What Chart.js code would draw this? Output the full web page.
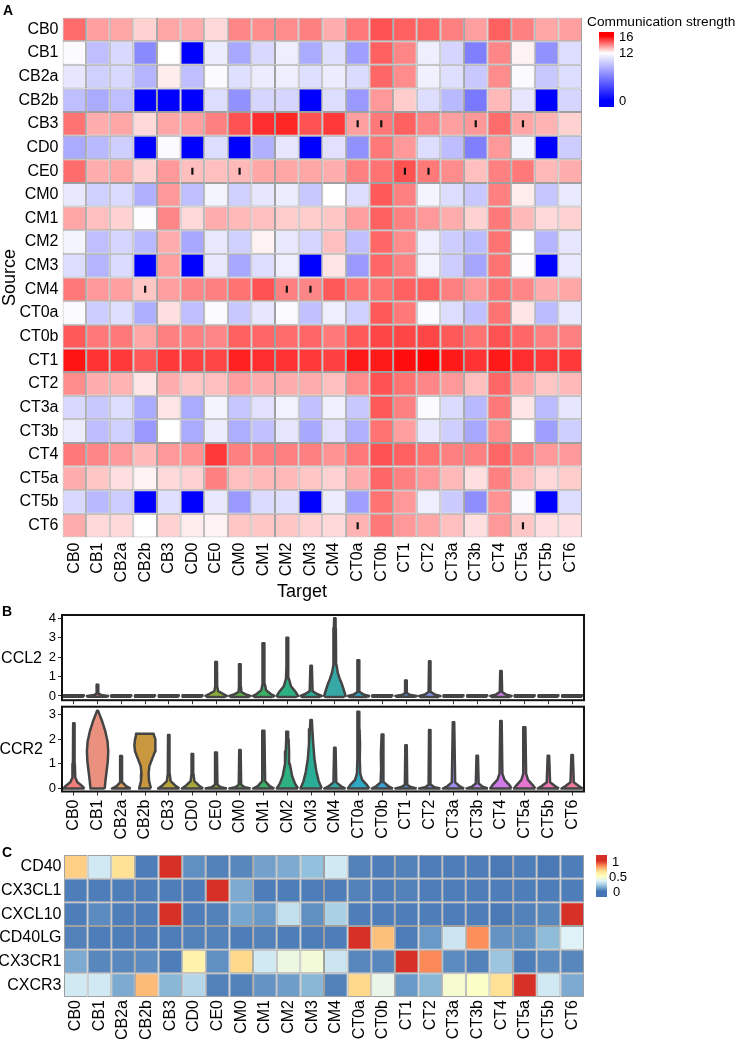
<!DOCTYPE html>
<html>
<head>
<meta charset="utf-8">
<script src="https://cdn.jsdelivr.net/npm/chart.js@4.4.1/dist/chart.umd.min.js"></script>
<style>
  body { margin: 0; background: #fff; width: 736px; height: 1039px; position: relative; overflow: hidden;
         font-family: "Liberation Sans", Arial, sans-serif; color: #000; }
  canvas { position: absolute; left: 0; }
  .lbl { position: absolute; white-space: nowrap; line-height: 1; }
  .panel { font-weight: bold; font-size: 14px; }
  .bar { position: absolute; }
</style>
</head>
<body>
<canvas id="heat-a" width="736" height="610" style="top:0px"></canvas>
<canvas id="vln-ccl2" width="736" height="110" style="top:600px"></canvas>
<canvas id="vln-ccr2" width="736" height="145" style="top:695px"></canvas>
<canvas id="heat-c" width="736" height="199" style="top:840px"></canvas>

<div class="lbl panel" style="left:3px;top:3px">A</div>
<div class="lbl panel" style="left:2px;top:604px">B</div>
<div class="lbl panel" style="left:2px;top:845px">C</div>

<div class="lbl" style="left:302px;top:591px;font-size:18px;transform:translate(-50%,-50%)">Target</div>

<div class="lbl" style="left:587px;top:15px;font-size:13.7px">Communication strength</div>
<div class="bar" style="left:599px;top:32px;width:15px;height:75px;background:linear-gradient(to bottom,#ff0000 0%,#ff0000 5%,#ffffff 28%,#0000ff 91%,#0000ff 100%)"></div>
<div class="lbl" style="left:619px;top:29.5px;font-size:13px">16</div>
<div class="lbl" style="left:619px;top:46px;font-size:13px">12</div>
<div class="lbl" style="left:619px;top:93.5px;font-size:13px">0</div>

<div class="lbl" style="right:694px;top:658px;font-size:16px;transform:translateY(-50%)">CCL2</div>
<div class="lbl" style="right:693px;top:749px;font-size:16px;transform:translateY(-50%)">CCR2</div>

<div class="bar" style="left:596px;top:855px;width:11px;height:42px;background:linear-gradient(to bottom,#D73027 0%,#D73027 14%,#FC8D59 26%,#FEE090 38%,#FFFFBF 50%,#E0F3F8 62%,#91BFDB 74%,#4575B4 86%,#4575B4 100%)"></div>
<div class="lbl" style="left:612px;top:854.5px;font-size:13px">1</div>
<div class="lbl" style="left:609px;top:869.5px;font-size:13px">0.5</div>
<div class="lbl" style="left:613px;top:884.5px;font-size:13px">0</div>

<script>
// ============================================
// Data
// ============================================

// Cell groups (used as source rows, target columns and violin groups)
const cellGroups = ['CB0', 'CB1', 'CB2a', 'CB2b', 'CB3', 'CD0', 'CE0', 'CM0', 'CM1', 'CM2', 'CM3',
    'CM4', 'CT0a', 'CT0b', 'CT1', 'CT2', 'CT3a', 'CT3b', 'CT4', 'CT5a', 'CT5b', 'CT6'];

// Panel A: communication strength, one row per source, columns in cellGroups order
const commStrength = [
    /* CB0  */ [14.3, 13.5, 13.4, 12.7, 13.4, 13.3, 12.6, 13.9, 13.8, 13.8, 14.0, 13.3, 14.1, 14.7, 14.5, 14.4, 14.0, 13.5, 14.5, 14.0, 13.4, 13.5],
    /* CB1  */ [11.8, 9.0, 10.2, 6.5, 12.0, 0, 11.1, 7.9, 10.2, 11.2, 8.0, 10.5, 7.5, 14.5, 13.9, 11.2, 10.0, 6.0, 13.9, 12.2, 6.8, 10.4],
    /* CB2a */ [10.8, 9.8, 10.2, 8.5, 12.3, 9.0, 11.8, 10.5, 11.1, 11.2, 10.5, 11.1, 10.3, 14.4, 13.8, 11.3, 10.5, 9.4, 13.8, 11.8, 9.4, 10.4],
    /* CB2b */ [9.0, 8.0, 9.0, 0, 0, 0, 10.4, 6.8, 10.0, 10.0, 0, 10.4, 7.2, 13.6, 12.8, 10.4, 8.7, 5.7, 13.1, 10.8, 0, 10.0],
    /* CB3  */ [14.2, 13.3, 13.4, 12.6, 13.4, 13.5, 14.0, 14.7, 15.3, 15.4, 14.7, 15.1, 13.5, 14.1, 14.5, 13.9, 13.5, 13.6, 14.3, 13.4, 13.2, 12.7],
    /* CD0  */ [8.0, 8.7, 9.7, 0, 11.8, 0, 10.4, 0, 8.3, 10.8, 0, 10.6, 6.8, 14.1, 13.6, 10.4, 8.9, 6.0, 13.6, 11.5, 0, 9.6],
    /* CE0  */ [14.3, 13.3, 13.4, 12.7, 13.6, 13.0, 13.0, 13.1, 13.4, 13.4, 13.4, 13.3, 14.0, 14.2, 14.7, 14.1, 13.8, 13.0, 14.0, 14.1, 13.1, 13.3],
    /* CM0  */ [10.9, 9.8, 10.3, 8.3, 13.6, 9.0, 11.5, 9.8, 10.8, 11.1, 9.4, 12.0, 10.4, 14.6, 14.0, 11.5, 10.4, 9.4, 14.0, 12.3, 9.3, 11.0],
    /* CM1  */ [13.4, 13.0, 12.7, 11.9, 13.9, 12.6, 13.3, 13.1, 13.0, 12.8, 12.8, 12.9, 13.5, 14.5, 14.0, 13.6, 13.3, 12.7, 14.1, 13.1, 12.6, 12.7],
    /* CM2  */ [11.5, 9.0, 10.0, 8.7, 13.3, 7.9, 10.9, 9.8, 12.2, 10.9, 10.0, 13.0, 9.0, 14.4, 13.8, 11.2, 9.6, 8.8, 14.2, 12.0, 8.5, 10.8],
    /* CM3  */ [10.4, 8.5, 10.3, 0, 13.5, 0, 10.9, 7.9, 10.4, 11.2, 0, 12.4, 7.2, 14.4, 14.0, 11.4, 9.6, 7.8, 14.2, 11.9, 0, 11.0],
    /* CM4  */ [14.1, 13.6, 13.5, 12.9, 13.5, 13.9, 14.0, 14.2, 14.7, 14.0, 13.9, 14.6, 14.2, 14.2, 14.5, 14.5, 14.0, 13.6, 14.2, 13.9, 13.3, 13.4],
    /* CT0a */ [11.8, 9.6, 10.5, 8.2, 12.5, 9.0, 11.8, 9.4, 10.8, 11.8, 9.1, 11.2, 9.8, 14.6, 14.1, 11.8, 10.4, 9.1, 14.2, 12.4, 8.8, 10.9],
    /* CT0b */ [14.6, 14.1, 14.1, 13.4, 14.0, 14.0, 13.9, 14.5, 14.4, 14.3, 14.4, 14.1, 14.6, 14.9, 14.9, 14.9, 14.6, 14.2, 14.7, 14.4, 14.0, 14.0],
    /* CT1  */ [15.7, 15.2, 15.1, 14.6, 15.1, 15.0, 14.9, 15.5, 15.3, 15.2, 15.1, 15.0, 15.6, 15.6, 15.8, 15.9, 15.6, 15.2, 15.6, 15.3, 15.1, 15.1],
    /* CT2  */ [13.8, 13.3, 13.2, 12.4, 13.3, 12.9, 13.0, 13.5, 13.3, 13.3, 13.3, 13.0, 13.8, 14.7, 14.2, 13.9, 13.6, 13.0, 14.4, 13.4, 12.9, 13.1],
    /* CT3a */ [10.2, 9.4, 10.4, 8.0, 12.4, 8.0, 11.5, 9.3, 10.6, 11.4, 9.1, 11.3, 9.4, 14.6, 14.0, 11.8, 10.3, 8.7, 14.1, 12.4, 8.8, 10.8],
    /* CT3b */ [11.1, 8.9, 9.8, 7.2, 12.0, 8.0, 11.1, 8.2, 9.1, 10.8, 7.9, 10.6, 8.3, 14.2, 13.5, 10.9, 9.7, 7.9, 13.8, 12.0, 7.5, 9.7],
    /* CT4  */ [14.1, 13.9, 13.6, 13.1, 13.6, 13.7, 15.1, 14.0, 14.0, 14.0, 14.0, 13.7, 14.1, 14.7, 14.5, 14.2, 14.0, 14.0, 14.4, 14.0, 13.6, 13.6],
    /* CT5a */ [13.3, 12.9, 12.5, 12.2, 12.6, 12.7, 14.0, 13.0, 13.1, 13.1, 12.9, 12.7, 13.3, 14.4, 14.0, 13.6, 13.1, 12.5, 14.0, 13.0, 12.6, 12.8],
    /* CT5b */ [10.2, 8.7, 9.6, 0, 10.5, 0, 10.9, 7.2, 10.3, 10.5, 0, 11.1, 7.5, 14.2, 13.6, 11.2, 9.5, 6.7, 13.7, 11.8, 0, 10.4],
    /* CT6  */ [13.3, 12.6, 12.6, 12.0, 12.7, 12.3, 12.2, 12.9, 12.9, 12.9, 12.7, 12.6, 13.2, 14.1, 13.6, 13.4, 13.0, 12.5, 13.6, 12.9, 12.5, 12.5]
];

// Panel A: cells carrying a "|" mark (source, target)
const markSources = ['CB3', 'CB3', 'CB3', 'CB3', 'CE0', 'CE0', 'CE0', 'CE0', 'CM4', 'CM4', 'CM4', 'CT6', 'CT6'];
const markTargets = ['CT0a', 'CT0b', 'CT3b', 'CT5a', 'CD0', 'CM0', 'CT1', 'CT2', 'CB2b', 'CM2', 'CM3', 'CT0a', 'CT5a'];

// Panel B: violin outlines as [expression, half width] pairs, bottom to top
const FLAT = [[-0.04, 0.42], [0.04, 0.42]];
const ccl2Profiles = [
    FLAT,
    [[-0.04, 0.42], [0, 0.45], [0.05, 0.15], [0.12, 0.04], [0.58, 0.03]],
    FLAT, FLAT, FLAT, FLAT,
    [[-0.05, 0.38], [0, 0.45], [0.1, 0.3], [0.25, 0.08], [0.5, 0.04], [1.75, 0.03]],
    [[-0.05, 0.38], [0, 0.45], [0.08, 0.25], [0.2, 0.06], [0.5, 0.04], [1.63, 0.03]],
    [[-0.05, 0.38], [0, 0.45], [0.1, 0.3], [0.3, 0.1], [0.6, 0.05], [2.72, 0.03]],
    [[-0.05, 0.4], [0, 0.45], [0.2, 0.35], [0.5, 0.15], [0.9, 0.06], [1.5, 0.04], [3.0, 0.03]],
    [[-0.05, 0.38], [0, 0.45], [0.1, 0.25], [0.25, 0.06], [1.55, 0.03]],
    [[-0.05, 0.4], [0, 0.45], [0.3, 0.38], [0.6, 0.3], [0.9, 0.2], [1.2, 0.12], [1.6, 0.07], [2.2, 0.05], [3.5, 0.04], [4.0, 0.03]],
    [[-0.05, 0.38], [0, 0.45], [0.08, 0.2], [0.2, 0.05], [1.84, 0.03]],
    FLAT,
    [[-0.04, 0.4], [0, 0.45], [0.06, 0.15], [0.15, 0.04], [0.79, 0.03]],
    [[-0.05, 0.4], [0, 0.45], [0.08, 0.2], [0.2, 0.05], [1.79, 0.03]],
    FLAT, FLAT,
    [[-0.05, 0.38], [0, 0.45], [0.08, 0.2], [0.2, 0.05], [1.28, 0.03]],
    FLAT, FLAT, FLAT
];
const ccr2Profiles = [
    [[0, 0.45], [0.1, 0.35], [0.25, 0.15], [0.45, 0.06], [1.0, 0.04], [2.64, 0.03]],
    [[0, 0.3], [0.3, 0.33], [0.7, 0.38], [1.1, 0.43], [1.5, 0.45], [1.9, 0.42], [2.3, 0.33], [2.7, 0.2], [3.0, 0.08], [3.15, 0.02]],
    [[0, 0.4], [0.1, 0.2], [0.25, 0.05], [1.32, 0.03]],
    [[0, 0.25], [0.3, 0.17], [0.6, 0.15], [0.9, 0.18], [1.2, 0.3], [1.5, 0.42], [1.75, 0.45], [2.0, 0.42], [2.15, 0.38], [2.22, 0.36]],
    [[0, 0.45], [0.1, 0.3], [0.3, 0.08], [0.6, 0.04], [2.17, 0.03]],
    [[0, 0.45], [0.1, 0.3], [0.3, 0.08], [0.6, 0.04], [1.4, 0.03]],
    [[0, 0.45], [0.05, 0.2], [0.15, 0.05], [1.46, 0.03]],
    [[0, 0.45], [0.05, 0.2], [0.15, 0.05], [1.56, 0.03]],
    [[0, 0.45], [0.1, 0.25], [0.3, 0.06], [2.34, 0.03]],
    [[0, 0.45], [0.2, 0.32], [0.5, 0.2], [1.0, 0.1], [1.5, 0.07], [2.0, 0.05], [2.3, 0.03]],
    [[0, 0.45], [0.3, 0.32], [0.7, 0.22], [1.2, 0.14], [1.8, 0.09], [2.4, 0.05], [2.77, 0.03]],
    [[0, 0.45], [0.1, 0.25], [0.25, 0.06], [1.65, 0.03]],
    [[0, 0.45], [0.15, 0.35], [0.35, 0.15], [0.6, 0.07], [1.2, 0.05], [1.8, 0.06], [2.4, 0.04], [3.11, 0.03]],
    [[0, 0.45], [0.1, 0.25], [0.25, 0.07], [0.8, 0.05], [1.4, 0.06], [2.19, 0.03]],
    [[0, 0.45], [0.06, 0.2], [0.15, 0.05], [1.75, 0.03]],
    [[0, 0.45], [0.05, 0.2], [0.15, 0.05], [2.37, 0.03]],
    [[0, 0.45], [0.1, 0.25], [0.25, 0.07], [2.68, 0.03]],
    [[0, 0.45], [0.08, 0.22], [0.2, 0.06], [1.33, 0.03]],
    [[0, 0.45], [0.15, 0.35], [0.35, 0.15], [0.6, 0.06], [2.73, 0.03]],
    [[0, 0.45], [0.15, 0.33], [0.35, 0.14], [0.6, 0.06], [2.48, 0.03]],
    [[0, 0.45], [0.1, 0.28], [0.25, 0.07], [1.33, 0.03]],
    [[0, 0.45], [0.1, 0.28], [0.25, 0.07], [1.36, 0.03]]
];

// Panel C: scaled expression (0-1) per gene, columns in cellGroups order
const genes = ['CD40', 'CX3CL1', 'CXCL10', 'CD40LG', 'CX3CR1', 'CXCR3'];
const geneExpression = [
    /* CD40   */ [0.70, 0.30, 0.66, 0.02, 1.0, 0.06, 0.03, 0.04, 0.10, 0.12, 0.17, 0.30, 0.03, 0.02, 0.03, 0.02, 0.02, 0.02, 0.01, 0.02, 0.01, 0.02],
    /* CX3CL1 */ [0.02, 0.02, 0.02, 0.02, 0.02, 0.02, 1.0, 0.12, 0.02, 0.02, 0.02, 0.02, 0.03, 0.02, 0.03, 0.02, 0.02, 0.02, 0.02, 0.02, 0.02, 0.02],
    /* CXCL10 */ [0.02, 0.05, 0.02, 0.02, 1.0, 0.02, 0.03, 0.11, 0.08, 0.27, 0.06, 0.22, 0.02, 0.02, 0.02, 0.02, 0.02, 0.02, 0.01, 0.03, 0.04, 1.0],
    /* CD40LG */ [0.03, 0.02, 0.02, 0.02, 0.02, 0.03, 0.03, 0.02, 0.03, 0.02, 0.02, 0.02, 1.0, 0.73, 0.02, 0.08, 0.29, 0.83, 0.07, 0.06, 0.16, 0.33],
    /* CX3CR1 */ [0.12, 0.04, 0.04, 0.05, 0.02, 0.57, 0.06, 0.68, 0.30, 0.40, 0.43, 0.29, 0.04, 0.04, 1.0, 0.84, 0.05, 0.03, 0.19, 0.02, 0.05, 0.04],
    /* CXCR3  */ [0.30, 0.30, 0.12, 0.74, 0.15, 0.24, 0.03, 0.03, 0.07, 0.09, 0.15, 0.03, 0.68, 0.38, 0.08, 0.15, 0.45, 0.48, 0.66, 1.0, 0.30, 0.12]
];

// ============================================
// Styles
// ============================================

const groupColors = ['#F17E7A', '#E9907E', '#D89A55', '#C9973D', '#B9A33A', '#A8A83A', '#8AAE3A', '#5FB450',
    '#3AB266', '#2FB282', '#2BAE98', '#36A9A6', '#2EA8C4', '#3C9FD6', '#5A98E0', '#7E92E8', '#9C8DEE',
    '#B886EE', '#D07CE8', '#E474D0', '#EC76B4', '#F07A98'];
const expressionStops = ['#4575B4', '#91BFDB', '#E0F3F8', '#FFFFBF', '#FEE090', '#FC8D59', '#D73027'];

Chart.defaults.font.family = '"Liberation Sans", Arial, sans-serif';
Chart.defaults.color = '#000';
Chart.defaults.animation = false;
Chart.defaults.plugins.legend.display = false;
Chart.defaults.plugins.tooltip.enabled = false;

// Blue (0) -> white (12) -> red (16)
function strengthColor(v) {
    if (v <= 12) {
        const c = Math.round(255 * v / 12);
        return `rgb(${c},${c},255)`;
    }
    const c = Math.round(255 * (1 - Math.min(1, (v - 12) / 4)));
    return `rgb(255,${c},${c})`;
}

function hexToRgb(hex) {
    const n = parseInt(hex.slice(1), 16);
    return [(n >> 16) & 255, (n >> 8) & 255, n & 255];
}

// Reversed RdYlBu ramp over 0..1
function expressionColor(v) {
    const p = Math.max(0, Math.min(1, v)) * (expressionStops.length - 1);
    const i = Math.min(expressionStops.length - 2, Math.floor(p));
    const t = p - i;
    const a = hexToRgb(expressionStops[i]);
    const b = hexToRgb(expressionStops[i + 1]);
    const mix = a.map((c, k) => Math.round(c + (b[k] - c) * t));
    return `rgb(${mix.join(',')})`;
}

// Black frame around violin panels
const panelFrame = {
    id: 'panelFrame',
    afterDatasetsDraw(chart) {
        const { ctx, chartArea: a } = chart;
        ctx.save();
        ctx.strokeStyle = '#111';
        ctx.lineWidth = 2;
        ctx.strokeRect(a.left, a.top, a.right - a.left, a.bottom - a.top);
        ctx.restore();
    }
};

// ============================================
// Heatmaps (stacked unit bars, one dataset per row)
// ============================================

function heatmapConfig({ rows, cols, values, colorOf, padTop, padRight, yWidth, xHeight, labelGap, rowGap, extraDatasets, yTitle }) {
    const datasets = rows.map((row, r) => ({
        type: 'bar',
        label: row,
        data: cols.map(() => 1),
        backgroundColor: values[r].map(colorOf),
        borderColor: '#a0a0a0',
        borderWidth: 1,
        borderSkipped: false,
        inflateAmount: 0,
        barPercentage: 1,
        categoryPercentage: 1,
        yAxisID: 'y'
    }));
    return {
        type: 'bar',
        data: { labels: cols, datasets: datasets.concat(extraDatasets || []) },
        options: {
            responsive: false,
            layout: { padding: { top: padTop, right: padRight, left: 0, bottom: 0 } },
            scales: {
                x: {
                    stacked: true,
                    grid: { display: false, drawTicks: false },
                    border: { display: false },
                    ticks: { autoSkip: false, minRotation: 90, maxRotation: 90, padding: labelGap, font: { size: 16 } },
                    afterFit: (s) => { s.height = xHeight; }
                },
                y: {
                    stacked: true,
                    min: 0,
                    max: rows.length,
                    reverse: true,
                    afterBuildTicks: (axis) => { axis.ticks = rows.map((_, i) => ({ value: i + 0.5 })); },
                    ticks: { autoSkip: false, padding: rowGap, font: { size: 16 }, callback: (v, i) => rows[i] },
                    grid: { display: false, drawTicks: false },
                    border: { display: false },
                    title: yTitle
                        ? { display: true, text: yTitle, font: { size: 18, lineHeight: 1 }, padding: { top: 1, bottom: 0 } }
                        : { display: false },
                    afterFit: (s) => { s.width = yWidth; }
                },
                yMark: { display: false, min: 0, max: rows.length, reverse: true }
            }
        }
    };
}

const markDataset = {
    type: 'scatter',
    yAxisID: 'yMark',
    order: -1, // draw above the cells
    data: markSources.map((src, k) => ({ x: markTargets[k], y: cellGroups.indexOf(src) + 0.5 })),
    pointStyle: 'line',
    rotation: 90,
    radius: 3.5,
    borderWidth: 2.2,
    borderColor: '#111'
};

new Chart(document.getElementById('heat-a'), heatmapConfig({
    rows: cellGroups, cols: cellGroups, values: commStrength, colorOf: strengthColor,
    padTop: 17.5, padRight: 154, yWidth: 62.5, xHeight: 72.5, labelGap: 5, rowGap: 4,
    extraDatasets: [markDataset], yTitle: 'Source'
}));

new Chart(document.getElementById('heat-c'), heatmapConfig({
    rows: genes, cols: cellGroups, values: geneExpression, colorOf: expressionColor,
    padTop: 15, padRight: 152, yWidth: 64, xHeight: 42, labelGap: 3, rowGap: 2.5
}));

// ============================================
// Violin panels (closed line shapes on a linear x axis)
// ============================================

function violinConfig({ profiles, yMin, yMax, yTicks, padTop, xHeight, showLabels }) {
    const datasets = profiles.map((profile, i) => {
        const right = profile.map(([y, w]) => ({ x: i + w, y }));
        const left = profile.slice().reverse().map(([y, w]) => ({ x: i - w, y }));
        return {
            data: right.concat(left, [right[0]]),
            borderColor: '#444',
            borderWidth: 2.5,
            borderJoinStyle: 'round',
            backgroundColor: groupColors[i],
            fill: 'shape',
            pointRadius: 0,
            tension: 0
        };
    });
    return {
        type: 'line',
        data: { datasets },
        plugins: [panelFrame],
        options: {
            responsive: false,
            layout: { padding: { top: padTop, right: 152, left: 0, bottom: 0 } },
            scales: {
                x: {
                    type: 'linear',
                    min: -0.5,
                    max: cellGroups.length - 0.5,
                    afterBuildTicks: (axis) => { axis.ticks = cellGroups.map((_, i) => ({ value: i })); },
                    ticks: {
                        display: showLabels, autoSkip: false, minRotation: 90, maxRotation: 90, padding: 4,
                        font: { size: 16 }, callback: (v, i) => cellGroups[i]
                    },
                    grid: { drawOnChartArea: false, tickLength: 4, color: '#333' },
                    border: { display: false },
                    afterFit: (s) => { s.height = xHeight; }
                },
                y: {
                    min: yMin,
                    max: yMax,
                    afterBuildTicks: (axis) => { axis.ticks = yTicks.map((v) => ({ value: v })); },
                    ticks: { padding: 2, font: { size: 13 } },
                    grid: { drawOnChartArea: false, tickLength: 4, color: '#333' },
                    border: { display: false },
                    afterFit: (s) => { s.width = 62; }
                }
            }
        }
    };
}

new Chart(document.getElementById('vln-ccl2'), violinConfig({
    profiles: ccl2Profiles, yMin: -0.22, yMax: 4.17, yTicks: [0, 1, 2, 3, 4],
    padTop: 15, xHeight: 8.3, showLabels: false
}));

new Chart(document.getElementById('vln-ccr2'), violinConfig({
    profiles: ccr2Profiles, yMin: -0.12, yMax: 3.31, yTicks: [0, 1, 2, 3],
    padTop: 11.7, xHeight: 48.5, showLabels: true
}));
</script>
</body>
</html>
